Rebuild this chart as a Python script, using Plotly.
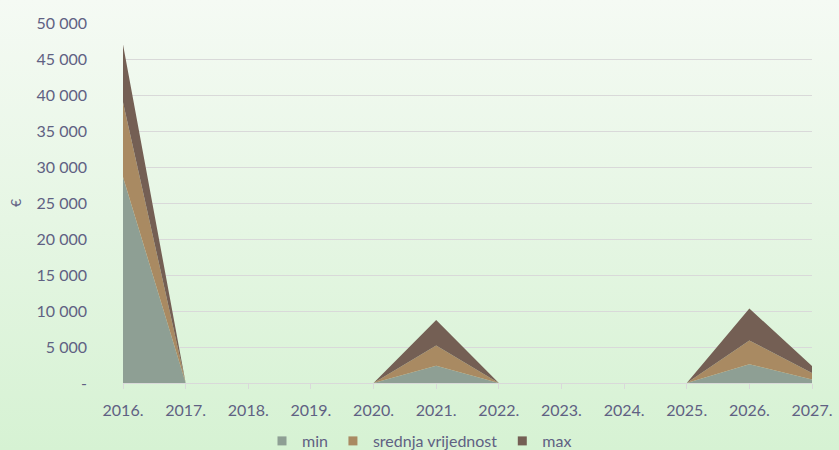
import plotly.graph_objects as go
import urllib.parse

years = ["2016.", "2017.", "2018.", "2019.", "2020.", "2021.", "2022.", "2023.", "2024.", "2025.", "2026.", "2027."]
min_vals = [28600, 0, 0, 0, 0, 2400, 0, 0, 0, 0, 2600, 500]
srednja_vals = [10400, 0, 0, 0, 0, 2800, 0, 0, 0, 0, 3300, 900]
max_vals = [8000, 0, 0, 0, 0, 3550, 0, 0, 0, 0, 4450, 950]
y_tickvals = [0, 5000, 10000, 15000, 20000, 25000, 30000, 35000, 40000, 45000, 50000]
y_ticktext = ["-", "5 000", "10 000", "15 000", "20 000", "25 000", "30 000", "35 000", "40 000", "45 000", "50 000"]

series = [
    ("min", min_vals, "#8E9F94"),
    ("srednja vrijednost", srednja_vals, "#A98A62"),
    ("max", max_vals, "#745F54"),
]

fig = go.Figure()
for name, vals, col in series:
    fig.add_trace(go.Scatter(
        x=years, y=vals, name=name, mode="none", stackgroup="one",
        fillcolor=col, line=dict(width=0), hoverinfo="x+y+name", showlegend=False,
    ))
for name, vals, col in series:
    fig.add_trace(go.Scatter(
        x=[None], y=[None], name=name, mode="markers",
        marker=dict(symbol="square", size=9, color=col), showlegend=True,
    ))

W, H = 839, 450
ml, mr, mt, mb = 123, 27, 23, 67
pw, ph = W - ml - mr, H - mt - mb

svg = ("<svg xmlns='http://www.w3.org/2000/svg' width='100' height='100' preserveAspectRatio='none'>"
       "<defs><linearGradient id='g' x1='0' y1='0' x2='0' y2='1'>"
       "<stop offset='0' stop-color='#F5FAF4'/><stop offset='1' stop-color='#D6F2D3'/>"
       "</linearGradient></defs><rect width='100' height='100' fill='url(#g)'/></svg>")
src = "data:image/svg+xml;charset=utf-8," + urllib.parse.quote(svg)

fig.add_layout_image(dict(
    source=src, xref="paper", yref="paper",
    x=-ml / pw, y=1 + mt / ph, sizex=W / pw, sizey=H / ph,
    sizing="stretch", xanchor="left", yanchor="top", layer="below",
))

txt = "#5F6183"
fig.update_layout(
    width=W, height=H,
    margin=dict(l=ml, r=mr, t=mt, b=mb, autoexpand=False),
    paper_bgcolor="#E8F6E6", plot_bgcolor="rgba(0,0,0,0)",
    font=dict(family="Lato, Calibri, sans-serif", size=16, color=txt),
    showlegend=True,
    legend=dict(orientation="h", x=0.5, xanchor="center", xref="container",
                y=(H - 441) / H, yanchor="middle", yref="container",
                font=dict(size=16, color=txt), bgcolor="rgba(0,0,0,0)",
                itemwidth=30, traceorder="normal"),
    xaxis=dict(type="category", range=[0, 11], showgrid=False, automargin=False,
               showline=True, linecolor="#D9D9D9", linewidth=1,
               ticks="outside", ticklen=5, tickcolor="#D9D9D9",
               ticklabelstandoff=8,
               tickfont=dict(size=16, color=txt), fixedrange=True),
    yaxis=dict(range=[0, 50000], tickvals=y_tickvals, ticktext=y_ticktext, automargin=False,
               showgrid=True, gridcolor="#D9D9D9", gridwidth=1, zeroline=False,
               tickfont=dict(size=16, color=txt), ticks="", ticklabelstandoff=35,
               title=dict(text="€", font=dict(size=14, color=txt), standoff=11),
               fixedrange=True),
)

fig.write_html("out.html", config={"displayModeBar": False},
               post_script="document.body.style.margin='0';document.body.style.overflow='hidden';")
